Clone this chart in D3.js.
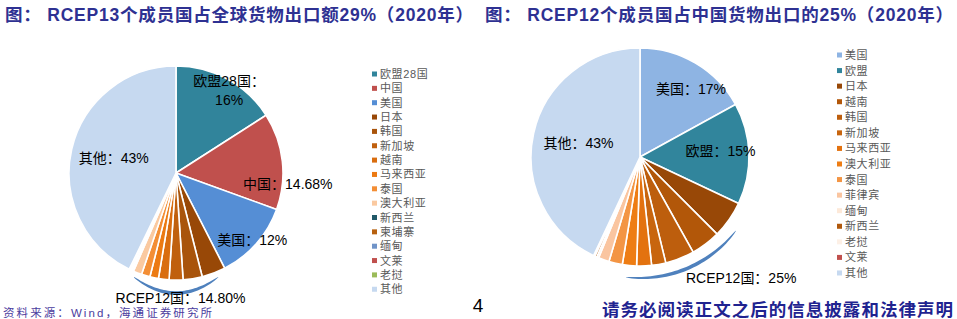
<!DOCTYPE html>
<html><head><meta charset="utf-8">
<script src="https://cdn.jsdelivr.net/npm/d3@7"></script>
<style>body{margin:0;background:#fff}svg{display:block}</style>
</head><body>
<svg id="c" width="957" height="319"></svg>
<script>
// ---------- data ----------
const leftTitle = "图： RCEP13个成员国占全球货物出口额29%（2020年）";
const rightTitle = "图： RCEP12个成员国占中国货物出口的25%（2020年）";
const leftCategories = ["欧盟28国","中国","美国","日本","韩国","新加坡","越南","马来西亚","泰国","澳大利亚","新西兰","柬埔寨","缅甸","文莱","老挝","其他"];
const leftValues = [16, 14.68, 12, 3.6, 2.9, 2.1, 1.6, 1.3, 1.3, 1.3, 0.2, 0.2, 0.15, 0.05, 0.1, 43];
const leftColors = ["#31849B","#C0504D","#558ED5","#984807","#A9540B","#C0600E","#D96D0F","#EC7A12","#F38E35","#FAC9A0","#215968","#B7610F","#7094C8","#C0504D","#9BBB59","#C6D9F0"];
const leftLabels = [["欧盟28国：","16%"],["中国：14.68%"],["美国：12%"],["其他：43%"]];
const leftLabelSlices = ["欧盟28国","中国","美国","其他"];
const leftGroupLabel = "RCEP12国：14.80%";

const rightCategories = ["美国","欧盟","日本","越南","韩国","新加坡","马来西亚","澳大利亚","泰国","菲律宾","缅甸","新西兰","老挝","文莱","其他"];
const rightValues = [17, 15, 5.5, 4.4, 4.3, 2.1, 2.2, 2.1, 2.0, 1.6, 0.3, 0.3, 0.1, 0.1, 43];
const rightColors = ["#8EB4E3","#31859C","#984807","#B25709","#BD5E0D","#C8650E","#E3720F","#EE7D14","#F39544","#FAC5A0","#FDE9D9","#B0580C","#FDF0E6","#C0504D","#C6D9F0"];
const rightLabels = [["美国：17%"],["欧盟：15%"],["其他：43%"]];
const rightLabelSlices = ["美国","欧盟","其他"];
const rightGroupLabel = "RCEP12国：25%";

const sourceText = "资料来源：Wind，海通证券研究所";
const pageNumber = "4";
const disclaimer = "请务必阅读正文之后的信息披露和法律声明";

// ---------- layout ----------
const FONT = "'Liberation Sans', Arial, 'Noto Sans CJK SC', sans-serif";
const svg = d3.select("#c");
const rad = d => d * Math.PI / 180;
const polar = (aDeg, r) => [r * Math.sin(rad(aDeg)), -r * Math.cos(rad(aDeg))];

function title(txt, x, w) {
  svg.append("text").attr("x", x).attr("y", 21).text(txt)
    .attr("font-family", FONT).attr("font-weight", "bold").attr("font-size", 17.5)
    .attr("fill", "#2E3192").attr("textLength", w).attr("lengthAdjust", "spacing");
}
title(leftTitle, 5, 468);
title(rightTitle, 485, 468);

function brace(g, pts, maxW, color) {
  const n = pts.length, top = [], bot = [];
  for (let i = 0; i < n; i++) {
    const p0 = pts[Math.max(0, i - 1)], p1 = pts[Math.min(n - 1, i + 1)];
    let dx = p1[0] - p0[0], dy = p1[1] - p0[1];
    const L = Math.hypot(dx, dy) || 1; dx /= L; dy /= L;
    const t = i / (n - 1);
    const w = 0.4 + maxW * Math.pow(Math.sin(Math.PI * t), 0.6);
    top.push([pts[i][0] - dy * w / 2, pts[i][1] + dx * w / 2]);
    bot.push([pts[i][0] + dy * w / 2, pts[i][1] - dx * w / 2]);
  }
  g.append("path").attr("d", d3.line()(top.concat(bot.reverse())) + "Z").attr("fill", color);
}

function drawPie(opt) {
  const g = svg.append("g").attr("transform", `translate(${opt.cx},${opt.cy})`);
  const data = opt.cats.map((c, i) => ({ c, v: opt.vals[i], color: opt.colors[i] }));
  const arcs = d3.pie().sort(null).value(d => d.v)(data);
  const arc = d3.arc().innerRadius(0).outerRadius(opt.r);
  g.selectAll("path.s").data(arcs).join("path").attr("class", "s")
    .attr("d", arc).attr("fill", d => d.data.color)
    .attr("stroke", "#fff").attr("stroke-width", 1.6).attr("stroke-linejoin", "round");

  opt.labelSlices.forEach((name, k) => {
    const a = arcs.find(d => d.data.c === name);
    const mid = (a.startAngle + a.endAngle) / 2 * 180 / Math.PI;
    const lp = opt.labelPos[k];
    const [x, y] = polar(mid + lp[0], opt.r * lp[1]);
    const lines = opt.labels[k];
    const t = g.append("text").attr("text-anchor", "middle")
      .attr("font-family", FONT).attr("font-size", 14).attr("fill", "#000");
    lines.forEach((ln, j) => {
      t.append("tspan").attr("x", x).attr("y", y + 5 + (j - (lines.length - 1) / 2) * 19).text(ln);
    });
  });

  const first = arcs.find(d => d.data.c === opt.groupFirst);
  const last = arcs.find(d => d.data.c === opt.groupLast);
  const a0 = first.startAngle * 180 / Math.PI, a1 = last.endAngle * 180 / Math.PI;
  const pts = [];
  if (opt.braceType === "bezier") {
    const s = polar(a1 - opt.braceTrim[1], opt.r * 1.05), e = polar(a0 + opt.braceTrim[0], opt.r * 1.05);
    const c = [(s[0] + e[0]) / 2, opt.r * opt.braceDepth];
    for (let i = 0; i <= 40; i++) {
      const t = i / 40, u = 1 - t;
      pts.push([u*u*s[0] + 2*u*t*c[0] + t*t*e[0], u*u*s[1] + 2*u*t*c[1] + t*t*e[1]]);
    }
  } else {
    for (let i = 0; i <= 40; i++) {
      const ang = (a1 - opt.braceTrim[1]) + (i / 40) * ((a0 + opt.braceTrim[0]) - (a1 - opt.braceTrim[1]));
      pts.push(polar(ang, opt.r * opt.braceDepth));
    }
  }
  brace(g, pts, 3.2, "#4F81BD");
  const mid = (a0 + a1) / 2;
  const [gx, gy] = polar(mid + opt.groupPos[0], opt.r * opt.groupPos[1]);
  g.append("text").attr("x", gx).attr("y", gy + 5).attr("text-anchor", "middle")
    .attr("font-family", FONT).attr("font-size", 14).attr("fill", "#000").text(opt.groupLabel);

  const lg = svg.append("g");
  opt.cats.forEach((c, i) => {
    const y = opt.legY + i * opt.legStep;
    lg.append("rect").attr("x", opt.legX).attr("y", y - 2.5).attr("width", 5).attr("height", 5).attr("fill", opt.colors[i]);
    lg.append("text").attr("x", opt.legX + 8).attr("y", y + 4).text(c)
      .attr("font-family", FONT).attr("font-size", 11).attr("letter-spacing", 0.6).attr("fill", "#595959");
  });
}

drawPie({
  cx: 176, cy: 173, r: 107,
  cats: leftCategories, vals: leftValues, colors: leftColors,
  labels: leftLabels, labelSlices: leftLabelSlices,
  labelPos: [[4, 0.92], [12, 1.05], [0, 0.95], [1, 0.6]],
  groupFirst: "日本", groupLast: "老挝", groupLabel: leftGroupLabel,
  braceType: "bezier", braceTrim: [5, 4], braceDepth: 1.27, groupPos: [-1.5, 1.165],
  legX: 372, legY: 74, legStep: 14.35
});
drawPie({
  cx: 640, cy: 157, r: 109,
  cats: rightCategories, vals: rightValues, colors: rightColors,
  labels: rightLabels, labelSlices: rightLabelSlices,
  labelPos: [[6.3, 0.78], [-2.4, 0.74], [0.6, 0.58]],
  groupFirst: "日本", groupLast: "文莱", groupLabel: rightGroupLabel,
  braceType: "arc", braceTrim: [12.5, 18.5], braceDepth: 1.11, groupPos: [-20, 1.45],
  legX: 837, legY: 55, legStep: 15.57
});

svg.append("text").attr("x", 3).attr("y", 317).text(sourceText)
  .attr("font-family", FONT).attr("font-size", 11.5).attr("fill", "#4B3C9E")
  .attr("textLength", 209).attr("lengthAdjust", "spacing");
svg.append("text").attr("x", 478).attr("y", 312).attr("text-anchor", "middle").text(pageNumber)
  .attr("font-family", FONT).attr("font-size", 19).attr("fill", "#000");
svg.append("text").attr("x", 602).attr("y", 316).text(disclaimer)
  .attr("font-family", FONT).attr("font-weight", "bold").attr("font-size", 17.5).attr("fill", "#1F2390")
  .attr("textLength", 351).attr("lengthAdjust", "spacing");
</script>
</body></html>
